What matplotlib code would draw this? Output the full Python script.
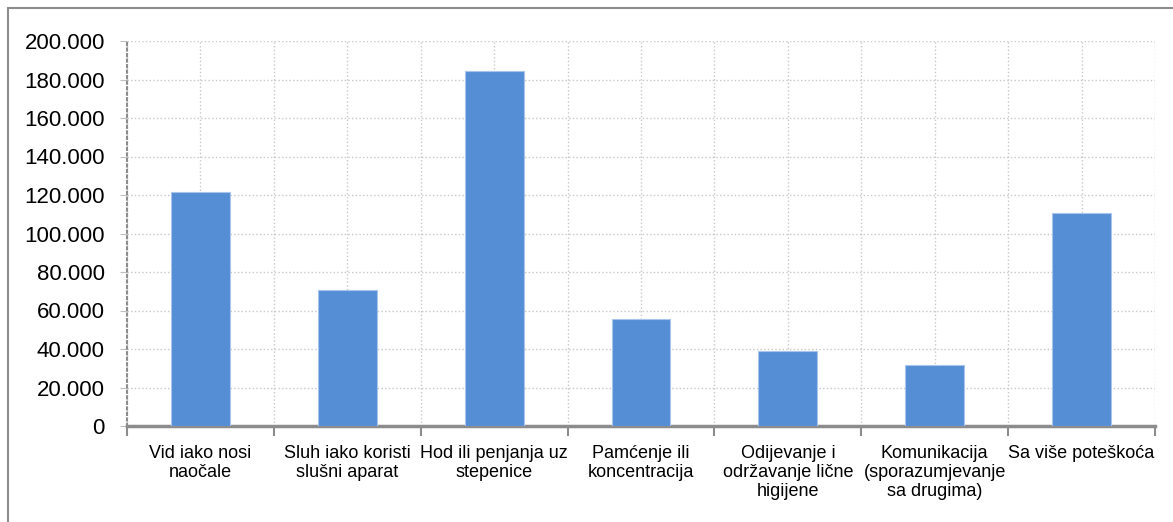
import matplotlib.pyplot as plt
from matplotlib.ticker import FuncFormatter, MultipleLocator
from matplotlib.patches import Rectangle

plt.rcParams['font.family'] = ['Liberation Sans', 'DejaVu Sans']

kategorije = ['Vid iako nosi\nnaočale', 'Sluh iako koristi\nslušni aparat',
              'Hod ili penjanja uz\nstepenice', 'Pamćenje ili\nkoncentracija',
              'Odijevanje i\nodržavanje lične\nhigijene',
              'Komunikacija\n(sporazumjevanje\nsa drugima)', 'Sa više poteškoća']
vrijednosti = [121500, 70700, 184400, 55600, 39000, 31700, 110600]

fig = plt.figure(figsize=(11.73, 5.22), dpi=100)
ax = fig.add_axes([127/1173, 1 - 426/522, 1028/1173, 385/522])

x = list(range(len(kategorije)))
ax.bar(x, vrijednosti, width=0.4, color='#558ed5', edgecolor='#a9c4eb', linewidth=0.8, zorder=3)

ax.set_xlim(-0.5, len(kategorije) - 0.5)
ax.set_ylim(0, 200000)
ax.yaxis.set_major_locator(MultipleLocator(20000))
ax.yaxis.set_major_formatter(FuncFormatter(lambda v, p: f'{int(v):,}'.replace(',', '.')))

ax.set_xticks(x)
ax.set_xticklabels(kategorije, fontsize=13, linespacing=1.15)
ax.set_xticks([i - 0.5 for i in range(len(kategorije) + 1)], minor=True)
ax.tick_params(axis='x', which='major', length=0, pad=14)
ax.tick_params(axis='x', which='minor', length=7, width=1.5, color='#8c8c8c')
ax.tick_params(axis='y', labelsize=16, length=5, color='#bfbfbf', pad=11)

ax.grid(True, which='both', axis='x', linestyle=':', color='#c8c8c8', linewidth=1)
ax.grid(True, which='major', axis='y', linestyle=':', color='#c8c8c8', linewidth=1)
ax.set_axisbelow(True)

for s in ['top', 'right']:
    ax.spines[s].set_visible(False)
ax.spines['bottom'].set_color('#8c8c8c')
ax.spines['bottom'].set_linewidth(2.5)
ax.spines['left'].set_color('#8c8c8c')
ax.spines['left'].set_linestyle(':')
ax.spines['left'].set_linewidth(1.5)

fig.patches.append(Rectangle((8/1173, -0.1), 1.2, 1 - 8/522 + 0.1, transform=fig.transFigure,
                             fill=False, edgecolor='#8c8c8c', linewidth=1.5))

fig.savefig('out.png', dpi=100)
